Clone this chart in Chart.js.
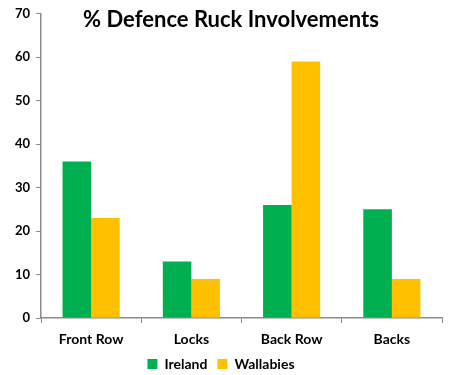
<!DOCTYPE html>
<html>
<head>
<meta charset="utf-8">
<script src="https://cdn.jsdelivr.net/npm/chart.js@4/dist/chart.umd.min.js"></script>
<style>
  html, body { margin: 0; padding: 0; background: #fff; }
  #wrap { width: 449px; height: 375px; }
</style>
</head>
<body>
<div id="wrap"><canvas id="ruckChart"></canvas></div>
<script>
const categories = ['Front Row', 'Locks', 'Back Row', 'Backs'];
const irelandValues = [36, 13, 26, 25];
const wallabiesValues = [23, 9, 59, 9];
const chartTitle = '% Defence Ruck Involvements';

const axisColor = '#8c8c8c';
const fontFamily = 'Lato, "Open Sans", sans-serif';

// title sits inside the plot area, so draw it ourselves
const titlePlugin = {
    id: 'innerTitle',
    afterDraw(chart) {
        const ctx = chart.ctx;
        ctx.save();
        ctx.font = 'bold 22px ' + fontFamily;
        ctx.fillStyle = '#000';
        ctx.textAlign = 'center';
        ctx.textBaseline = 'middle';
        ctx.fillText(chartTitle, 231, 20);
        ctx.restore();
    }
};

const ctx = document.getElementById('ruckChart').getContext('2d');
new Chart(ctx, {
    type: 'bar',
    data: {
        labels: categories,
        datasets: [
            { label: 'Ireland', data: irelandValues, backgroundColor: '#00b050' },
            { label: 'Wallabies', data: wallabiesValues, backgroundColor: '#ffc000' }
        ]
    },
    options: {
        responsive: true,
        maintainAspectRatio: false,
        animation: false,
        layout: { padding: { left: 0, right: 7, top: 8, bottom: 0 } },
        datasets: { bar: { categoryPercentage: 0.57, barPercentage: 1.0 } },
        scales: {
            x: {
                afterFit(scale) { scale.height = 29; },
                grid: { drawOnChartArea: false, drawTicks: true, tickLength: 5, color: axisColor },
                border: { color: axisColor, width: 1.5 },
                ticks: { color: '#000', font: { family: fontFamily, size: 14, weight: 'bold' }, padding: 8 }
            },
            y: {
                min: 0,
                max: 70,
                afterFit(scale) { scale.width = 41; },
                grid: { drawOnChartArea: false, drawTicks: true, tickLength: 5, color: axisColor },
                border: { color: axisColor, width: 1.5 },
                ticks: { stepSize: 10, color: '#000', font: { family: fontFamily, size: 13, weight: 'bold' }, padding: 6 }
            }
        },
        plugins: {
            legend: {
                position: 'bottom',
                maxHeight: 28,
                labels: {
                    boxWidth: 10,
                    boxHeight: 10,
                    padding: 10,
                    color: '#000',
                    font: { family: fontFamily, size: 14, weight: 'bold' }
                }
            },
            tooltip: { enabled: false }
        }
    },
    plugins: [titlePlugin]
});
</script>
</body>
</html>
